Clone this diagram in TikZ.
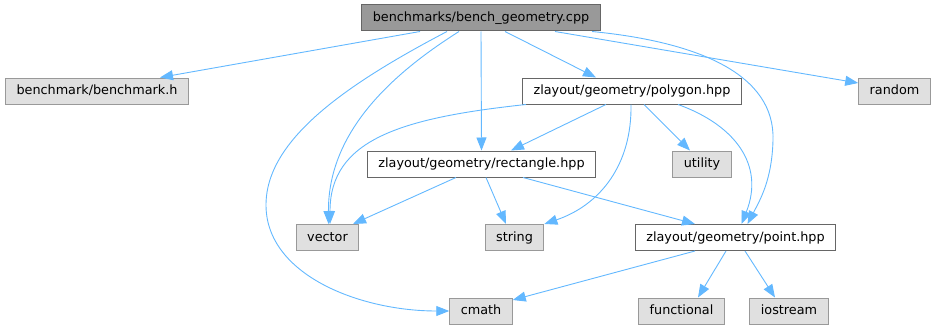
\documentclass[tikz,border=0pt]{standalone}
\usepackage{fontspec}
\setmainfont{DejaVu Sans}
\usetikzlibrary{arrows.meta}
\definecolor{edgeblue}{HTML}{63B8FF}
\definecolor{boxgray}{HTML}{E0E0E0}
\definecolor{boxline}{HTML}{999999}
\definecolor{darkline}{HTML}{666666}
\tikzset{
    file/.style={draw,rectangle,line width=1pt,inner xsep=11pt,inner ysep=0pt,
        minimum height=26pt,text height=9.5pt,text depth=2.5pt},
    main file/.style={file,fill=boxline,draw=darkline},
    local file/.style={file,fill=white,draw=darkline},
    sys file/.style={file,fill=boxgray,draw=boxline},
    inc/.style={->,>={Triangle[length=13pt,width=10pt]},draw=edgeblue,line width=0.9pt},
}
\tikzstyle{every node}=[font=\fontsize{12.8}{15}\selectfont]

\begin{document}
\begin{tikzpicture}[x=1pt,y=-1pt]
    \useasboundingbox (0,0) rectangle (936,329);
    % files
    \node[main file] (main) at (481,18) {benchmarks/bench\_geometry.cpp};
    \node[sys file] (bench) at (97,91) {benchmark/benchmark.h};
    \node[local file] (poly) at (632,91) {zlayout/geometry/polygon.hpp};
    \node[sys file] (rand) at (894.5,91) {random};
    \node[local file] (rect) at (481.5,164) {zlayout/geometry/rectangle.hpp};
    \node[sys file] (util) at (702,164) {utility};
    \node[sys file] (vec) at (327.5,237.5) {vector};
    \node[sys file] (str) at (514.5,237.5) {string};
    \node[local file] (point) at (735.5,237.5) {zlayout/geometry/point.hpp};
    \node[sys file] (cmath) at (481,311) {cmath};
    \node[sys file] (func) at (681.5,311) {functional};
    \node[sys file] (ios) at (789,311) {iostream};

    % includes of bench_geometry.cpp
    \draw[inc] ([xshift=-61pt]main.south) -- ([xshift=63pt]bench.north);
    \draw[inc] ([xshift=-22pt]main.south) .. controls (395,72) and (328,130) .. ([xshift=1pt]vec.north);
    \draw[inc] ([xshift=-34pt]main.south) .. controls (345,85) and (266,140) .. (266,205)
        .. controls (266,275) and (360,311) .. (cmath.west);
    \draw[inc] (main.south) -- (rect.north);
    \draw[inc] ([xshift=24pt]main.south) -- ([xshift=-36pt]poly.north);
    \draw[inc] ([xshift=74pt]main.south) -- ([yshift=8pt]rand.west);
    \draw[inc] ([xshift=111pt]main.south) .. controls (700,42) and (775,75) .. (773,140)
        .. controls (772,180) and (760,200) .. ([xshift=12pt]point.north);

    % polygon.hpp
    \draw[inc] ([xshift=-106pt]poly.south) .. controls (400,118) and (330,140) .. ([xshift=2.5pt]vec.north);
    \draw[inc] ([xshift=-26pt]poly.south) -- ([xshift=29.5pt]rect.north);
    \draw[inc] ([xshift=-1pt]poly.south) .. controls (632,165) and (600,205) .. (str.north east);
    \draw[inc] ([xshift=12pt]poly.south) -- ([xshift=-12pt]util.north);
    \draw[inc] ([xshift=46pt]poly.south) .. controls (735,125) and (765,165) .. ([xshift=6pt]point.north);

    % rectangle.hpp
    \draw[inc] ([xshift=-25.5pt]rect.south) -- ([xshift=25.5pt]vec.north);
    \draw[inc] ([xshift=4.5pt]rect.south) -- ([xshift=-8.5pt]str.north);
    \draw[inc] ([xshift=41.5pt]rect.south) -- ([xshift=-40.5pt]point.north);

    % point.hpp
    \draw[inc] ([xshift=-40.5pt]point.south) -- ([yshift=11pt]cmath.east);
    \draw[inc] ([xshift=-9.5pt]point.south) -- ([xshift=16.5pt]func.north);
    \draw[inc] ([xshift=9.5pt]point.south) -- ([xshift=-14pt]ios.north);
\end{tikzpicture}
\end{document}
